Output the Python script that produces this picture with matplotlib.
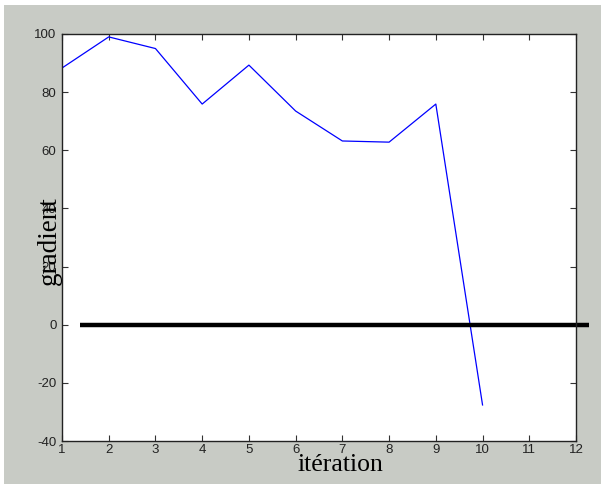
import matplotlib
matplotlib.use('Agg')
import matplotlib.pyplot as plt
from matplotlib.patches import Rectangle

# data
iterations = [1, 2, 3, 4, 5, 6, 7, 8, 9, 10]
gradient = [88.3, 99.0, 95.0, 75.9, 89.3, 73.5, 63.2, 62.8, 75.9, -27.6]
zero_x = [1.39, 12.28]
zero_y = [0, 0]
xticks = list(range(1, 13))
yticks = [-40, -20, 0, 20, 40, 60, 80, 100]

grey = '#c8cbc5'

fig = plt.figure(figsize=(6.01, 4.84), dpi=100)
fig.patch.set_facecolor('white')
# grey panel, leaving a thin white strip at left and top
fig.patches.append(Rectangle((4/601, 0), 1, 1 - 5/484, transform=fig.transFigure,
                             facecolor=grey, edgecolor='none', zorder=-1))

ax = fig.add_axes([62/601, 43/484, 514/601, 407/484])
ax.set_facecolor('white')

ax.plot(iterations, gradient, color='#0000ff', linewidth=0.9)
ax.plot(zero_x, zero_y, color='black', linewidth=3.2, clip_on=False, solid_capstyle='butt')

ax.set_xlim(1, 12)
ax.set_ylim(-40, 100)
ax.set_xticks(xticks)
ax.set_yticks(yticks)

tickfont = 'Liberation Sans'
ax.set_xticklabels([str(t) for t in xticks], fontsize=9.5, family=tickfont, color='#222222')
ax.set_yticklabels([str(t) for t in yticks], fontsize=9.5, family=tickfont, color='#222222')
ax.tick_params(direction='in', length=4, width=0.8, top=True, right=True,
               color='#333333', pad=2)
ax.tick_params(axis='y', pad=4)
for s in ax.spines.values():
    s.set_color('#222222')
    s.set_linewidth(1.0)

# axis titles drawn on top of the tick labels, like the original
fig.text(49/601, 1 - 241/484, 'gradient', rotation=90, ha='center', va='center',
         fontsize=19.5, family='Liberation Serif')
fig.text(340/601, 1 - 465/484, 'itération', ha='center', va='center',
         fontsize=18.5, family='Liberation Serif')

fig.savefig('out.png', dpi=100, facecolor=fig.get_facecolor())
